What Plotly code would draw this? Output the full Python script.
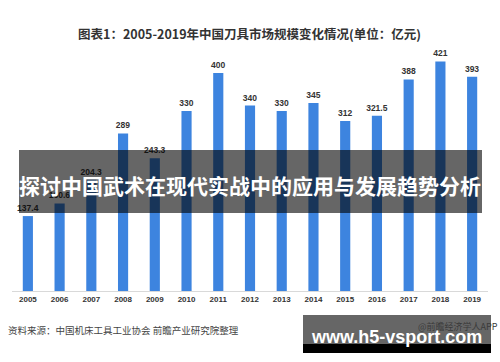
import plotly.graph_objects as go

years = ["2005", "2006", "2007", "2008", "2009", "2010", "2011", "2012",
         "2013", "2014", "2015", "2016", "2017", "2018", "2019"]
values = [137.4, 160.6, 204.3, 289, 243.3, 330, 400, 340,
          330, 345, 312, 321.5, 388, 421, 393]
value_labels = ["137.4", "160.6", "204.3", "289", "243.3", "330", "400", "340",
                "330", "345", "312", "321.5", "388", "421", "393"]

title_text = "图表1：2005-2019年中国刀具市场规模变化情况(单位：亿元)"
banner_text = "探讨中国武术在现代实战中的应用与发展趋势分析"
source_text = "资料来源：中国机床工具工业协会 前瞻产业研究院整理"
app_text = "@前瞻经济学人APP"
site_text = "www.h5-vsport.com"

W, H = 500, 362
ML, MR, MT, MB = 12, 12, 50, 71
PW = W - ML - MR
PH = H - MT - MB


def px(x):
    return (x - ML) / PW


def py(y):
    return (H - MB - y) / PH


FONT = "Liberation Sans, Noto Sans CJK SC, sans-serif"
CJK = "Noto Sans CJK SC, sans-serif"

fig = go.Figure(go.Bar(
    x=years, y=values,
    text=["<b>%s</b>" % t for t in value_labels],
    textposition="outside",
    constraintext="none",
    textfont=dict(size=8.5, color="#333333", family=FONT),
    marker=dict(color="#3d84df", line=dict(width=0)),
    cliponaxis=False,
))

fig.update_layout(
    width=W, height=H,
    margin=dict(l=ML, r=MR, t=MT, b=MB),
    paper_bgcolor="white", plot_bgcolor="white",
    bargap=0.68,
    showlegend=False,
    xaxis=dict(
        tickmode="array", tickvals=years,
        ticktext=["<b>%s</b>" % y for y in years],
        tickfont=dict(size=8, color="#333333", family=FONT),
        showline=True, linecolor="#d9d9d9", linewidth=1,
        showgrid=False, ticks="", fixedrange=True,
    ),
    yaxis=dict(range=[0, 442], visible=False, showgrid=False, fixedrange=True),
)

shapes = [
    dict(type="rect", xref="paper", yref="paper",
         x0=px(19), x1=px(482), y0=py(213), y1=py(150),
         fillcolor="black", opacity=0.6, line=dict(width=0), layer="above"),
    dict(type="rect", xref="paper", yref="paper",
         x0=px(303), x1=px(491), y0=py(344), y1=py(315),
         fillcolor="#666666", line=dict(width=0), layer="above"),
    dict(type="rect", xref="paper", yref="paper",
         x0=px(303), x1=px(491), y0=py(353), y1=py(344),
         fillcolor="#000000", line=dict(width=0), layer="above"),
]
fig.update_layout(shapes=shapes)

annotations = [
    dict(text="<b>%s</b>" % title_text, xref="paper", yref="paper",
         x=px(249), y=py(33), showarrow=False,
         font=dict(size=12.5, color="#333333", family=CJK),
         xanchor="center", yanchor="middle"),
    dict(text="<b>%s</b>" % banner_text, xref="paper", yref="paper",
         x=px(250), y=py(185), showarrow=False,
         font=dict(size=21, color="white", family=CJK),
         xanchor="center", yanchor="middle"),
    dict(text=source_text, xref="paper", yref="paper",
         x=px(6), y=py(330), showarrow=False,
         font=dict(size=9.5, color="#444444", family=CJK),
         xanchor="left", yanchor="middle"),
    dict(text=app_text, xref="paper", yref="paper",
         x=px(416), y=py(326), showarrow=False,
         font=dict(size=9, color="#3a3a3a", family=CJK),
         xanchor="left", yanchor="middle"),
    dict(text="<b>%s</b>" % site_text, xref="paper", yref="paper",
         x=px(396), y=py(337), showarrow=False,
         font=dict(size=18, color="white", family=FONT),
         xanchor="center", yanchor="middle"),
]
fig.update_layout(annotations=annotations)

fig.write_html(
    "out.html",
    config={"displayModeBar": False},
    post_script="document.body.style.margin='0';document.body.style.padding='0';",
)
